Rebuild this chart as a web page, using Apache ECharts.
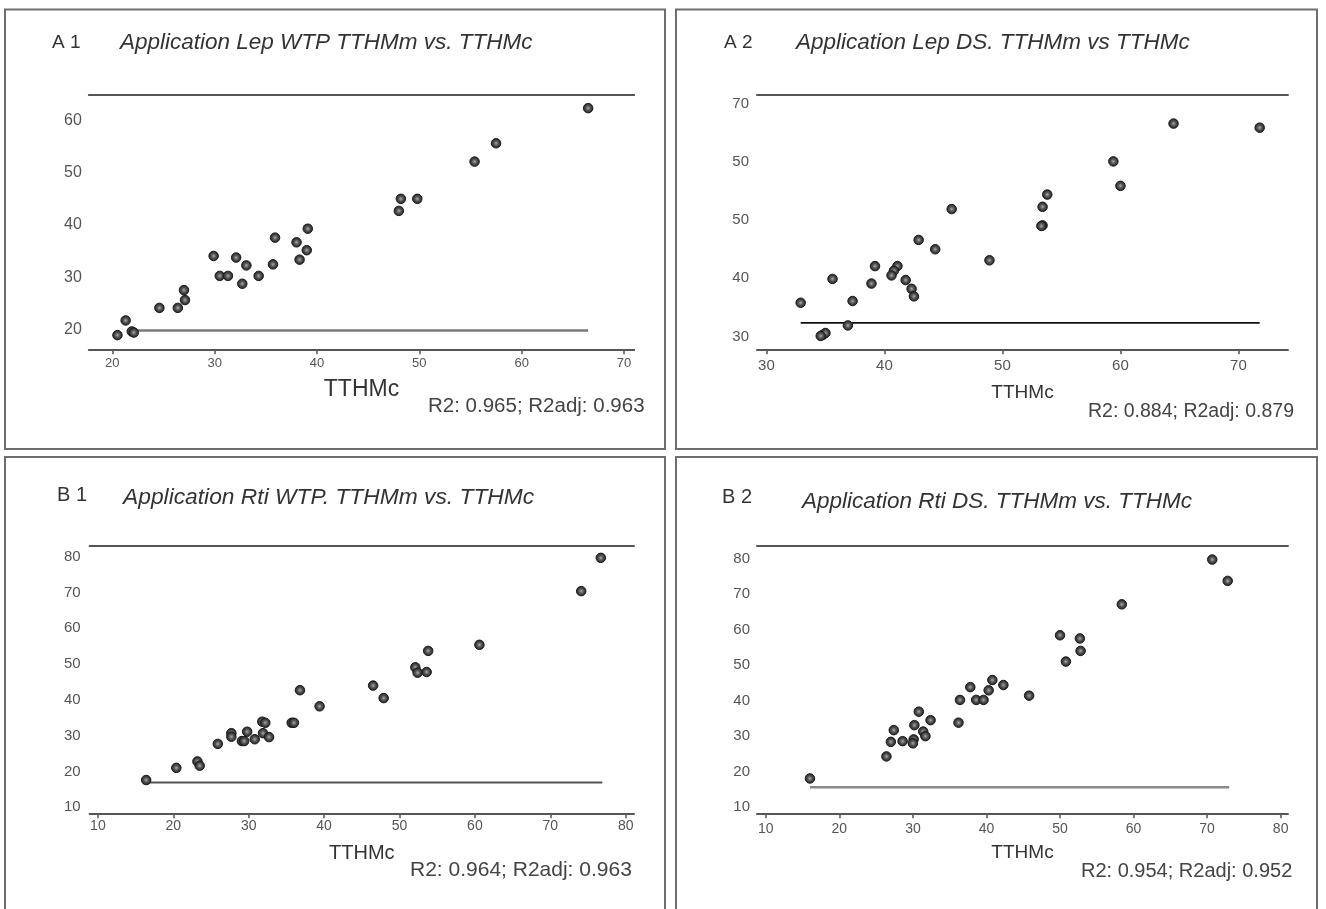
<!DOCTYPE html>
<html><head><meta charset="utf-8">
<script src="https://cdn.jsdelivr.net/npm/echarts@6/dist/echarts.min.js"></script>
<style>html,body{margin:0;padding:0;background:#fff}#chart{width:1326px;height:909px}</style>
</head><body><div id="chart"></div>
<script>
// ---------- DATA ----------
const panelTags = ['A 1', 'A 2', 'B 1', 'B 2'];
const panelTitles = [
  'Application Lep WTP TTHMm vs. TTHMc',
  'Application Lep DS. TTHMm vs TTHMc',
  'Application Rti WTP. TTHMm vs. TTHMc',
  'Application Rti DS. TTHMm vs. TTHMc'
];
const fitStats = [
  'R2: 0.965; R2adj: 0.963',
  'R2: 0.884; R2adj: 0.879',
  'R2: 0.964; R2adj: 0.963',
  'R2: 0.954; R2adj: 0.952'
];
const xName = 'TTHMc';

// A1
const a1X = [66.5,57.5,55.4,48.2,49.8,48.0,39.1,35.9,38.0,39.0,38.3,29.9,32.1,33.1,35.7,30.5,31.3,34.3,32.7,27.0,27.1,26.4,24.6,21.3,21.9,22.1,20.5];
const a1Y = [62.3,55.6,52.1,45.0,45.0,42.7,39.3,37.6,36.7,35.2,33.4,34.1,33.8,32.3,32.5,30.3,30.3,30.3,28.8,27.6,25.7,24.2,24.2,21.8,19.7,19.5,19.0];
const a1XRange = [17.7, 71.0];
const a1YRange = [16.3, 64.9];
const a1XTicks = [20,30,40,50,60,70];
const a1YTicks = [20,30,40,50,60];
const a1YTickLabels = ['20','30','40','50','60'];
const a1RefX = [21.9, 66.5];
const a1RefY = 19.9;

// A2
const a2X = [64.5,71.8,59.4,60.0,53.8,53.4,53.4,53.3,45.7,42.9,44.3,48.9,39.2,41.1,40.8,40.6,41.8,42.3,42.5,38.9,35.6,37.3,32.9,36.9,34.8,35.0,34.6];
const a2Y = [66.6,65.9,60.1,55.9,54.4,52.3,49.1,49.0,51.9,46.6,45.0,43.1,42.1,42.1,41.3,40.5,39.7,38.2,36.9,39.1,39.9,36.1,35.8,31.9,30.3,30.6,30.1];
const a2XRange = [29.2, 74.2];
const a2YRange = [27.8, 71.6];
const a2XTicks = [30,40,50,60,70];
const a2YTicks = [30,40,50,60,70];
const a2YTickLabels = ['30','40','50','50','70'];
const a2RefX = [32.9, 71.8];
const a2RefY = 32.35;

// B1
const b1X = [76.7,74.1,60.6,53.8,52.1,52.4,53.6,46.5,47.9,36.8,39.4,35.7,36.0,31.8,32.2,27.7,27.7,29.8,29.1,29.4,30.8,31.9,32.7,25.9,23.2,23.5,20.4,16.4];
const b1Y = [79.7,70.4,55.4,53.7,49.1,47.6,47.8,44.0,40.5,42.7,38.2,33.6,33.6,33.9,33.6,30.7,29.7,31.1,28.5,28.5,29.0,30.7,29.6,27.7,22.8,21.6,21.0,17.6];
const b1XRange = [8.9, 81.1];
const b1YRange = [8.3, 83.1];
const b1XTicks = [10,20,30,40,50,60,70,80];
const b1YTicks = [10,20,30,40,50,60,70,80];
const b1YTickLabels = ['10','20','30','40','50','60','70','80'];
const b1RefX = [16.4, 76.9];
const b1RefY = 16.9;

// B2
const b2X = [70.7,72.8,58.4,50.0,52.7,52.8,50.8,45.8,40.8,42.3,37.8,40.3,36.4,38.6,39.6,36.2,30.8,32.4,30.2,31.4,31.7,27.4,27.0,28.6,30.1,30.0,26.4,16.0];
const b2Y = [79.7,73.7,67.1,58.4,57.5,54.0,51.0,41.4,45.8,44.4,43.8,42.9,40.2,40.2,40.2,33.8,36.9,34.5,33.1,31.3,30.0,31.7,28.4,28.6,29.1,28.0,24.3,18.1];
const b2XRange = [8.8, 81.0];
const b2YRange = [8.3, 83.6];
const b2XTicks = [10,20,30,40,50,60,70,80];
const b2YTicks = [10,20,30,40,50,60,70,80];
const b2YTickLabels = ['10','20','30','40','50','60','70','80'];
const b2RefX = [16.0, 73.0];
const b2RefY = 15.6;

// ---------- LAYOUT / STYLE ----------
const panels = [
  { x: a1X, y: a1Y, xr: a1XRange, yr: a1YRange, xt: a1XTicks, yt: a1YTicks, ytl: a1YTickLabels, rx: a1RefX, ry: a1RefY,
    grid: {left: 88.8, top: 94.5, width: 545.4, height: 254.8},
    box: [5, 9.5, 660, 439.5], tag: [52, 43, 19], title: [120, 43, 22.5], stat: [428, 406, 20.5],
    name: {size: 23, gap: 29}, xl: {size: 13, margin: 8}, yl: {size: 16, margin: 7},
    ref: {color: '#7a7a7a', width: 2.5} },
  { x: a2X, y: a2Y, xr: a2XRange, yr: a2YRange, xt: a2XTicks, yt: a2YTicks, ytl: a2YTickLabels, rx: a2RefX, ry: a2RefY,
    grid: {left: 757, top: 94.5, width: 531, height: 254.8},
    box: [676, 9.5, 641, 439.5], tag: [724, 43, 19], title: [796, 43, 22.5], stat: [1088, 412, 19.5],
    name: {size: 19, gap: 34}, xl: {size: 15, margin: 9}, yl: {size: 15, margin: 8},
    ref: {color: '#111', width: 1.6} },
  { x: b1X, y: b1Y, xr: b1XRange, yr: b1YRange, xt: b1XTicks, yt: b1YTicks, ytl: b1YTickLabels, rx: b1RefX, ry: b1RefY,
    grid: {left: 89.6, top: 545.7, width: 544.4, height: 267.6},
    box: [5, 457, 660, 470], tag: [57, 495, 20], title: [123, 498, 22.8], stat: [410, 870, 21],
    name: {size: 20, gap: 30}, xl: {size: 14, margin: 6}, yl: {size: 15, margin: 9},
    ref: {color: '#555', width: 2} },
  { x: b2X, y: b2Y, xr: b2XRange, yr: b2YRange, xt: b2XTicks, yt: b2YTicks, ytl: b2YTickLabels, rx: b2RefX, ry: b2RefY,
    grid: {left: 757, top: 545.7, width: 531, height: 267.6},
    box: [676, 457, 641, 470], tag: [722, 497, 20], title: [802, 502, 22.5], stat: [1081, 871, 20],
    name: {size: 19, gap: 30}, xl: {size: 14, margin: 9}, yl: {size: 15, margin: 7},
    ref: {color: '#8a8a8a', width: 2.5} }
];

const FONT = '"Liberation Sans", Arial, sans-serif';
const AX = '#555';

const grid = [], xAxis = [], yAxis = [], series = [], graphic = [];
panels.forEach((p, i) => {
  grid.push(Object.assign({containLabel: false, outerBoundsMode: 'none'}, p.grid));
  // bottom axis
  xAxis.push({
    type: 'value', gridIndex: i, position: 'bottom', min: p.xr[0], max: p.xr[1],
    axisLine: {show: true, onZero: false, lineStyle: {color: AX, width: 2}},
    axisTick: {show: true, customValues: p.xt, length: 5, inside: false, lineStyle: {color: AX, width: 1.5}},
    axisLabel: {show: true, customValues: p.xt, color: '#555', fontFamily: FONT, fontSize: p.xl.size, margin: p.xl.margin},
    splitLine: {show: false},
    name: xName, nameLocation: 'middle', nameGap: p.name.gap,
    nameTextStyle: {color: '#333', fontFamily: FONT, fontSize: p.name.size}
  });
  // top frame line
  xAxis.push({
    type: 'value', gridIndex: i, position: 'top', min: p.xr[0], max: p.xr[1],
    axisLine: {show: true, onZero: false, lineStyle: {color: AX, width: 2}},
    axisTick: {show: false}, axisLabel: {show: false}, splitLine: {show: false}
  });
  const ticks = p.yt, labs = p.ytl;
  yAxis.push({
    type: 'value', gridIndex: i, min: p.yr[0], max: p.yr[1],
    axisLine: {show: false}, axisTick: {show: false}, splitLine: {show: false},
    axisLabel: {show: true, customValues: ticks, color: '#555', fontFamily: FONT, fontSize: p.yl.size, margin: p.yl.margin,
      formatter: v => { const k = ticks.indexOf(v); return k >= 0 ? labs[k] : ''; }}
  });
  series.push({
    type: 'line', xAxisIndex: 2 * i, yAxisIndex: i, symbol: 'none', silent: true, z: 1,
    data: [[p.rx[0], p.ry], [p.rx[1], p.ry]],
    lineStyle: {color: p.ref.color, width: p.ref.width}
  });
  series.push({
    type: 'scatter', xAxisIndex: 2 * i, yAxisIndex: i, symbol: 'circle', symbolSize: 9.5, z: 3,
    data: p.x.map((v, k) => [v, p.y[k]]),
    itemStyle: {
      color: {type: 'radial', x: 0.5, y: 0.5, r: 0.5, colorStops: [
        {offset: 0, color: '#a8a8a8'}, {offset: 0.45, color: '#555'}, {offset: 1, color: '#1c1c1c'}]},
      borderColor: '#1a1a1a', borderWidth: 1, opacity: 1
    }
  });
  graphic.push({type: 'rect', silent: true, z: 0,
    shape: {x: p.box[0], y: p.box[1], width: p.box[2], height: p.box[3]},
    style: {fill: 'none', stroke: '#6e6e6e', lineWidth: 2}});
  graphic.push({type: 'text', x: p.tag[0], y: p.tag[1],
    style: {text: panelTags[i], fill: '#333', font: `${p.tag[2]}px ${FONT}`, textAlign: 'left', textVerticalAlign: 'middle'}});
  graphic.push({type: 'text', x: p.title[0], y: p.title[1],
    style: {text: panelTitles[i], fill: '#333', font: `italic ${p.title[2]}px ${FONT}`, textAlign: 'left', textVerticalAlign: 'middle'}});
  graphic.push({type: 'text', x: p.stat[0], y: p.stat[1],
    style: {text: fitStats[i], fill: '#444', font: `${p.stat[2]}px ${FONT}`, textAlign: 'left', textVerticalAlign: 'middle'}});
});

const chart = echarts.init(document.getElementById('chart'), null, {renderer: 'canvas'});
chart.setOption({
  animation: false,
  backgroundColor: '#fff',
  grid, xAxis, yAxis, series, graphic
});
</script>
</body></html>
